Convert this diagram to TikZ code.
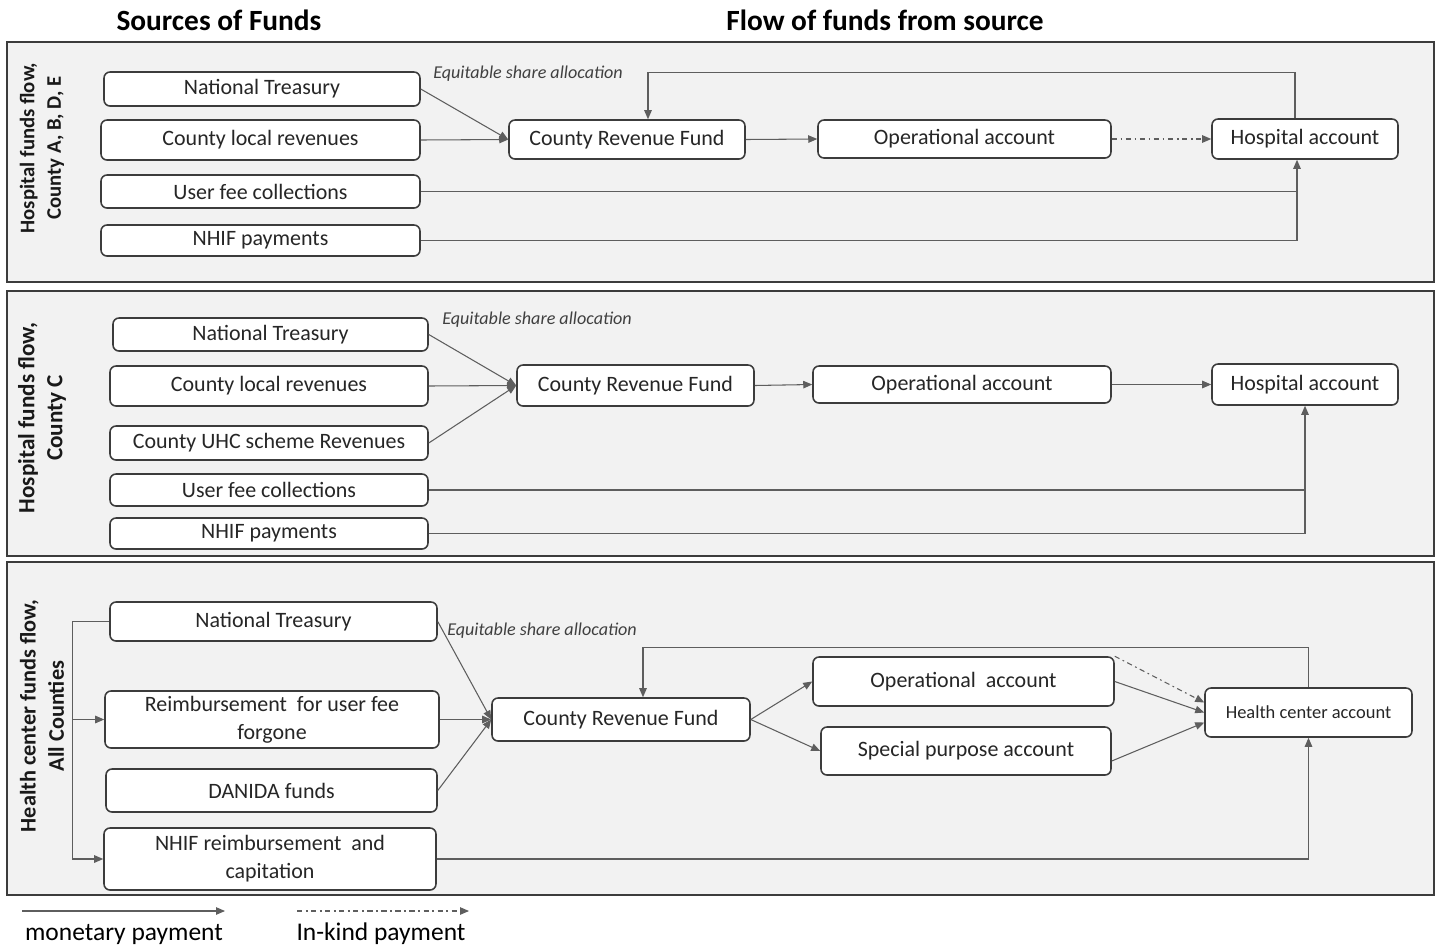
\documentclass[tikz,border=0pt]{standalone}
\usepackage{fontspec}
\setmainfont{Carlito}
\usetikzlibrary{arrows.meta}

\definecolor{panelfill}{HTML}{F2F2F2}
\definecolor{edgegray}{HTML}{3C3C3C}
\definecolor{linegray}{HTML}{5E5E5E}

\tikzset{
	panel/.style={draw=edgegray, fill=panelfill, line width=1pt},
	fbox/.style={draw=edgegray, fill=white, rounded corners=1.2mm, line width=0.9pt, inner sep=0pt, align=center, text=black!85, font=\fontsize{12.5}{16}\selectfont},
	plain/.style={draw=linegray, line width=0.6pt},
	flow/.style={plain, -{Triangle[length=1.8mm,width=1.5mm]}},
	inkind/.style={flow, dash pattern=on 3pt off 2pt on 1pt off 2pt},
	sidelabel/.style={rotate=90, align=center, text=black!90},
	headlabel/.style={font=\bfseries\fontsize{16.7}{20}\selectfont},
	eqlabel/.style={anchor=west, inner sep=0pt, font=\itshape\fontsize{10.3}{12}\selectfont, text=black!75},
}

\begin{document}
	\begin{tikzpicture}[x=0.02cm, y=-0.02cm]
		\useasboundingbox (0,0) rectangle (1438,951);
		
		\node[headlabel] (srchead) at (219,20) {Sources of Funds};
		\node[headlabel] (flowhead) at (885,20) {Flow of funds from source};
		
		\draw[panel] (7,42) rectangle (1434,282);
		\draw[panel] (7,291) rectangle (1434,556);
		\draw[panel] (7,562) rectangle (1434,895);
		
		\node[sidelabel, font=\bfseries\fontsize{11.8}{15}\selectfont] (side1) at (42,148) {Hospital funds flow,\\County A, B, D, E};
		\node[sidelabel, font=\bfseries\fontsize{13.2}{16}\selectfont] (side2) at (42,418) {Hospital funds flow,\\County C};
		\node[sidelabel, font=\bfseries\fontsize{12.7}{16}\selectfont] (side3) at (42,716) {Health center funds flow,\\All Counties};
		
		% panel 1
		\node[fbox, minimum width=6.32cm, minimum height=0.68cm] (nt1) at (262,89) {National Treasury};
		\node[fbox, minimum width=6.38cm, minimum height=0.80cm] (clr1) at (260.5,140) {County local revenues};
		\node[fbox, minimum width=6.38cm, minimum height=0.66cm] (ufc1) at (260.5,191.5) {User fee collections};
		\node[fbox, minimum width=6.38cm, minimum height=0.62cm] (nhif1) at (260.5,240.5) {NHIF payments};
		\node[fbox, minimum width=4.72cm, minimum height=0.78cm] (crf1) at (627,139.5) {County Revenue Fund};
		\node[fbox, minimum width=5.86cm, minimum height=0.76cm] (oa1) at (964.5,139) {Operational account};
		\node[fbox, minimum width=3.72cm, minimum height=0.80cm] (ha1) at (1305,139) {Hospital account};
		\node[eqlabel] (eq1) at (433,74) {Equitable share allocation};
		\coordinate (ha1in) at ([xshift=-1.6mm]ha1.south);
		
		\draw[flow] (nt1.east) -- (crf1.west);
		\draw[flow] (clr1.east) -- (crf1.west);
		\draw[flow] (crf1.east) -- (oa1.west);
		\draw[inkind] (oa1.east) -- (ha1.west);
		\draw[flow] ([xshift=-2mm]ha1.north) -- ++(0,-46) -| ([xshift=4.2mm]crf1.north);
		\draw[plain] (ufc1.east) -- (ufc1.east -| ha1in);
		\draw[flow] (nhif1.east) -- (nhif1.east -| ha1in) -- (ha1in);
		
		% panel 2
		\node[fbox, minimum width=6.30cm, minimum height=0.66cm] (nt2) at (270.5,334.5) {National Treasury};
		\node[fbox, minimum width=6.36cm, minimum height=0.80cm] (clr2) at (269,386) {County local revenues};
		\node[fbox, minimum width=6.36cm, minimum height=0.68cm] (uhc2) at (269,443) {County UHC scheme Revenues};
		\node[fbox, minimum width=6.36cm, minimum height=0.64cm] (ufc2) at (269,490) {User fee collections};
		\node[fbox, minimum width=6.36cm, minimum height=0.62cm] (nhif2) at (269,533.5) {NHIF payments};
		\node[fbox, minimum width=4.74cm, minimum height=0.82cm] (crf2) at (635.5,385.5) {County Revenue Fund};
		\node[fbox, minimum width=5.96cm, minimum height=0.74cm] (oa2) at (962,384.5) {Operational account};
		\node[fbox, minimum width=3.72cm, minimum height=0.82cm] (ha2) at (1305,384.5) {Hospital account};
		\node[eqlabel] (eq2) at (442,320) {Equitable share allocation};
		
		\draw[flow] (nt2.east) -- (crf2.west);
		\draw[flow] (clr2.east) -- (crf2.west);
		\draw[flow] (uhc2.east) -- (crf2.west);
		\draw[flow] (crf2.east) -- (oa2.west);
		\draw[flow] (oa2.east) -- (ha2.west);
		\draw[plain] (ufc2.east) -- (ufc2.east -| ha2.south);
		\draw[flow] (nhif2.east) -- (nhif2.east -| ha2.south) -- (ha2.south);
		
		% panel 3
		\node[fbox, minimum width=6.54cm, minimum height=0.78cm] (nt3) at (273.5,621.5) {National Treasury};
		\node[fbox, minimum width=6.68cm, minimum height=1.14cm] (ruf3) at (272,719.5) {Reimbursement~ for user fee\\forgone};
		\node[fbox, minimum width=6.62cm, minimum height=0.86cm] (dan3) at (271.5,790.5) {DANIDA funds};
		\node[fbox, minimum width=6.64cm, minimum height=1.24cm] (nhif3) at (270,859) {NHIF reimbursement~ and\\capitation};
		\node[fbox, minimum width=5.16cm, minimum height=0.86cm] (crf3) at (621,719.5) {County Revenue Fund};
		\node[fbox, minimum width=6.02cm, minimum height=0.98cm] (oa3) at (963.5,681.5) {Operational~ account};
		\node[fbox, minimum width=5.80cm, minimum height=0.96cm] (spa3) at (966,751) {Special purpose account};
		\node[fbox, minimum width=4.14cm, minimum height=0.98cm, font=\fontsize{10.5}{12}\selectfont] (hc3) at (1308.5,712.5) {Health center account};
		\node[eqlabel] (eq3) at (447,631) {Equitable share allocation};
		
		\draw[flow] (nt3.west) -- ++(-37,0) coordinate (brace3) |- (nhif3.west);
		\draw[flow] (brace3 |- ruf3.west) -- (ruf3.west);
		\draw[flow] (nt3.east) -- (crf3.west);
		\draw[flow] (ruf3.east) -- (crf3.west);
		\draw[flow] (dan3.east) -- (crf3.west);
		\draw[flow] (crf3.east) -- (oa3.west);
		\draw[flow] (crf3.east) -- (spa3.west);
		\draw[flow] (oa3.east) -- (hc3.west);
		\draw[inkind] (oa3.north east) -- ([yshift=2mm]hc3.west);
		\draw[flow] ([yshift=-2mm]spa3.east) -- ([yshift=-2mm]hc3.west);
		\draw[flow] (hc3.north) -- ++(0,-40) -| ([xshift=4.4mm]crf3.north);
		\draw[flow] (nhif3.east) -- (nhif3.east -| hc3.south) -- (hc3.south);
		
		% legend
		\coordinate (mon0) at (22,911);
		\coordinate (mon1) at (225,911);
		\coordinate (ink0) at (297,911);
		\coordinate (ink1) at (469,911);
		\draw[flow] (mon0) -- (mon1);
		\draw[inkind] (ink0) -- (ink1);
		\node[font=\fontsize{14.5}{17}\selectfont] (monlabel) at (124,934) {monetary payment};
		\node[font=\fontsize{14.5}{17}\selectfont] (inklabel) at (381,934) {In-kind payment};
	\end{tikzpicture}
\end{document}
